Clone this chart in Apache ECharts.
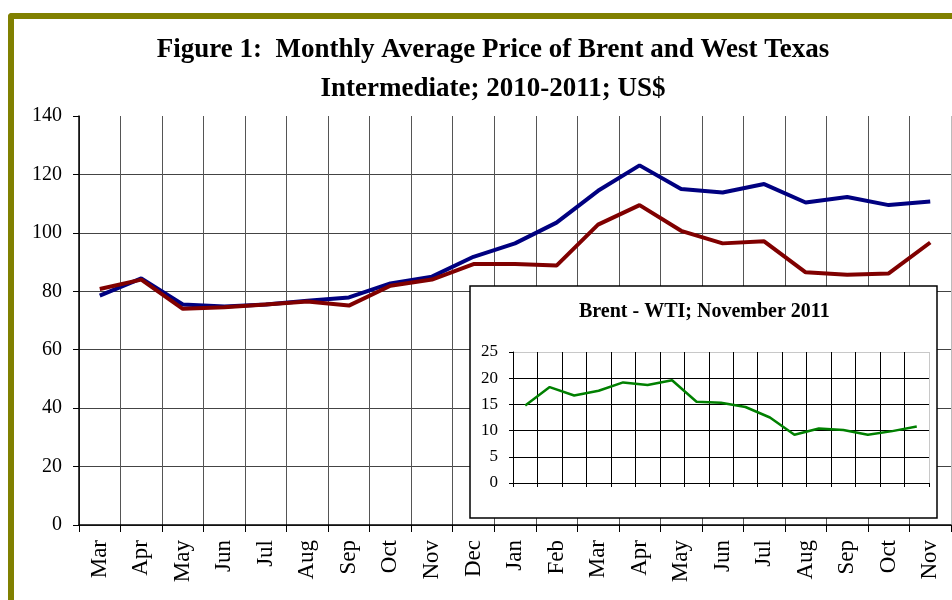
<!DOCTYPE html>
<html>
<head>
<meta charset="utf-8">
<script src="https://cdn.jsdelivr.net/npm/echarts@6/dist/echarts.min.js"></script>
<style>
  html, body { margin: 0; padding: 0; background: #fff; }
  #frame {
    position: absolute; left: 8px; top: 13px; width: 960px; height: 600px;
    border-left: 6px solid #808000; border-top: 6px solid #808000;
    border-top-left-radius: 4px;
  }
  #chart { position: absolute; left: 0; top: 0; width: 952px; height: 600px; }
</style>
</head>
<body>
<div id="frame"></div>
<div id="chart"></div>
<script>
// months Mar 2010 .. Nov 2011
var months = ['Mar','Apr','May','Jun','Jul','Aug','Sep','Oct','Nov','Dec','Jan',
              'Feb','Mar','Apr','May','Jun','Jul','Aug','Sep','Oct','Nov'];
var brent = [78.5, 84.4, 75.5, 74.8, 75.5, 76.8, 77.9, 82.7, 85.0, 91.8, 96.4,
             103.5, 114.4, 123.1, 115.0, 113.8, 116.7, 110.4, 112.3, 109.5, 110.7];
var wti   = [80.8, 84.0, 74.0, 74.5, 75.5, 76.5, 75.1, 81.9, 84.0, 89.3, 89.3,
             88.8, 102.8, 109.5, 100.7, 96.4, 97.1, 86.5, 85.7, 86.1, 96.7];
var yTicks = [0, 140, 20];   // min, max, step

// inset: Brent - WTI spread
var spreadCats = ['1','2','3','4','5','6','7','8','9','10','11','12','13','14','15','16','17'];
var spread = [14.8, 18.3, 16.7, 17.6, 19.2, 18.7, 19.6, 15.5, 15.3, 14.5, 12.5,
              9.2, 10.4, 10.1, 9.2, 9.9, 10.8];
var spreadTicks = [0, 25, 5];

var serif = '"Liberation Serif", "Times New Roman", serif';

var chart = echarts.init(document.getElementById('chart'));

var xSplitColors = [];
for (var i = 0; i < months.length; i++) xSplitColors.push('#555');
xSplitColors.push('#bbb');
var ixSplitColors = [];
for (var i = 0; i < spreadCats.length; i++) ixSplitColors.push('#000');
ixSplitColors.push('#c8c8c8');

var option = {
    animation: false,
    title: {
        text: 'Figure 1:  Monthly Average Price of Brent and West Texas\nIntermediate; 2010-2011; US$',
        left: 488,
        textAlign: 'center',
        top: 26,
        textStyle: {
            fontFamily: serif, fontWeight: 'bold', fontSize: 27,
            lineHeight: 39, color: '#000'
        }
    },
    grid: [
        {left: 79, right: 1, top: 116, bottom: 75},
        {left: 513, right: 23, top: 352, bottom: 117, zlevel: 1}
    ],
    graphic: [
        {
            type: 'rect', zlevel: 1, z: 0,
            shape: {x: 470, y: 286, width: 467, height: 232},
            style: {fill: '#fff', stroke: '#000', lineWidth: 1.5}
        },
        {
            type: 'text', zlevel: 1, z: 10,
            left: 579, top: 302,
            style: {
                text: 'Brent - WTI; November 2011',
                font: 'bold 20px ' + serif, fill: '#000'
            }
        }
    ],
    xAxis: [
        {
            type: 'category', gridIndex: 0, data: months, boundaryGap: true,
            axisLine: {lineStyle: {color: '#000', width: 1.5}},
            axisTick: {show: true, length: 7, lineStyle: {color: '#000'}},
            axisLabel: {
                interval: 0, rotate: 90, margin: 15,
                fontFamily: serif, fontSize: 23, color: '#000'
            },
            splitLine: {show: true, interval: 0, lineStyle: {color: xSplitColors, width: 1}}
        },
        {
            type: 'category', gridIndex: 1, data: spreadCats, boundaryGap: true, zlevel: 1, z: 5,
            axisLine: {lineStyle: {color: '#000', width: 1}},
            axisTick: {show: true, length: 4, lineStyle: {color: '#000'}},
            axisLabel: {show: false},
            splitLine: {show: true, interval: 0, lineStyle: {color: ixSplitColors, width: 1}}
        }
    ],
    yAxis: [
        {
            type: 'value', gridIndex: 0,
            min: yTicks[0], max: yTicks[1], interval: yTicks[2],
            axisLine: {show: true, lineStyle: {color: '#000', width: 1.5}},
            axisTick: {show: true, length: 6, lineStyle: {color: '#000'}},
            axisLabel: {fontFamily: serif, fontSize: 20, color: '#000', margin: 17},
            splitLine: {show: true, showMaxLine: false, lineStyle: {color: '#444', width: 1}}
        },
        {
            type: 'value', gridIndex: 1, zlevel: 1, z: 5,
            min: spreadTicks[0], max: spreadTicks[1], interval: spreadTicks[2],
            axisLine: {show: true, lineStyle: {color: '#000', width: 1}},
            axisTick: {show: true, length: 4, lineStyle: {color: '#000'}},
            axisLabel: {fontFamily: serif, fontSize: 17, color: '#000', margin: 15},
            splitLine: {show: true, lineStyle: {color: ['#000','#000','#000','#000','#000','#c8c8c8'], width: 1}}
        }
    ],
    series: [
        {
            name: 'Brent', type: 'line', xAxisIndex: 0, yAxisIndex: 0,
            data: brent, symbol: 'none',
            lineStyle: {color: '#000080', width: 4}
        },
        {
            name: 'WTI', type: 'line', xAxisIndex: 0, yAxisIndex: 0,
            data: wti, symbol: 'none',
            lineStyle: {color: '#800000', width: 4}
        },
        {
            name: 'Brent - WTI', type: 'line', xAxisIndex: 1, yAxisIndex: 1,
            data: spread, symbol: 'none', zlevel: 1, z: 6,
            lineStyle: {color: '#008000', width: 2.5}
        }
    ]
};

chart.setOption(option);
</script>
</body>
</html>
